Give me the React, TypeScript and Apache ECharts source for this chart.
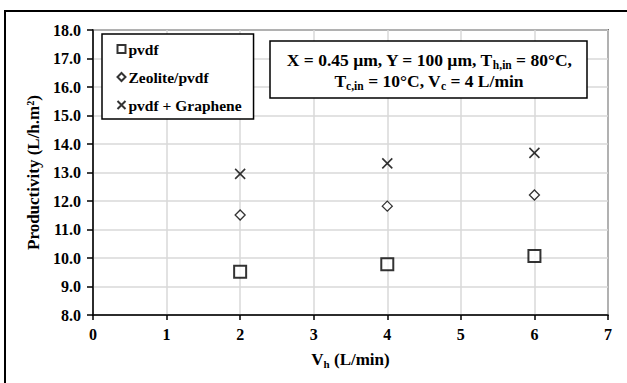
import React, { useEffect, useRef } from "react";
import * as echarts from "echarts";

const seriesNames = ["pvdf", "Zeolite/pvdf", "pvdf + Graphene"];
const xValues = [2, 4, 6];
const pvdf = [9.52, 9.78, 10.07];
const zeolite = [11.51, 11.82, 12.21];
const graphene = [12.95, 13.32, 13.69];

const FONT = "'Liberation Serif', 'Times New Roman', serif";

export default function App() {
  const ref = useRef<HTMLDivElement>(null);
  useEffect(() => {
    if (!ref.current) return;
    const chart = echarts.init(ref.current, null, { renderer: "svg" });
    const toPairs = (ys: number[]) => xValues.map((x, i) => [x, ys[i]]);
    const sub = { fontSize: 11, fontWeight: "bold", fontFamily: FONT, color: "#000", verticalAlign: "bottom", padding: [9, 0, 0, 0] };
    chart.setOption({
      animation: false,
      backgroundColor: "#fff",
      textStyle: { fontFamily: FONT },
      grid: { left: 93, top: 30, right: 19, bottom: 68, show: true, borderColor: "#000", borderWidth: 1.5, backgroundColor: "transparent" },
      xAxis: {
        type: "value",
        min: 0,
        max: 7,
        interval: 1,
        name: "V{sub|h} (L/min)",
        nameLocation: "middle",
        nameGap: 34,
        nameTextStyle: { fontSize: 17, fontWeight: "bold", color: "#000", fontFamily: FONT, rich: { sub } },
        axisLine: { lineStyle: { color: "#000", width: 1.5 } },
        axisTick: { show: true, inside: false, length: 5, lineStyle: { color: "#000", width: 1.5 } },
        axisLabel: { margin: 11, fontSize: 16, fontWeight: "bold", color: "#000", fontFamily: FONT },
        splitLine: { show: true, lineStyle: { color: "#d9d9d9", width: 1.5 } },
      },
      yAxis: {
        type: "value",
        min: 8,
        max: 18,
        interval: 1,
        name: "Productivity (L/h.m²)",
        nameLocation: "middle",
        nameGap: 47,
        nameTextStyle: { fontSize: 17, fontWeight: "bold", color: "#000", fontFamily: FONT },
        axisLine: { show: true, lineStyle: { color: "#000", width: 1.5 } },
        axisTick: { show: true, inside: false, length: 6, lineStyle: { color: "#000", width: 1.5 } },
        axisLabel: { margin: 12, fontSize: 16, fontWeight: "bold", color: "#000", fontFamily: FONT, formatter: (v: number) => v.toFixed(1) },
        splitLine: { show: true, lineStyle: { color: "#d9d9d9", width: 1.5 } },
      },
      legend: {
        orient: "vertical",
        left: 102,
        top: 34,
        padding: [7, 12, 6, 13],
        itemGap: 12,
        itemWidth: 8,
        itemHeight: 8,
        borderColor: "#000",
        borderWidth: 1.5,
        backgroundColor: "#fff",
        textStyle: { fontSize: 15.5, fontWeight: "bold", color: "#000", fontFamily: FONT, padding: [0, 0, 0, -2] },
        data: seriesNames,
      },
      graphic: [
        {
          type: "rect",
          shape: { x: 5, y: 11, width: 700, height: 500 },
          style: { fill: "none", stroke: "#000", lineWidth: 2 },
          silent: true,
        },
        {
          type: "rect",
          shape: { x: 270, y: 41, width: 317, height: 57 },
          style: { fill: "#fff", stroke: "#000", lineWidth: 1.5 },
          z: 10,
        },
        {
          type: "text",
          x: 429,
          y: 70,
          z: 11,
          style: {
            text: "X = 0.45 µm, Y = 100 µm, T{sub|h,in} = 80°C,\nT{sub|c,in} = 10°C, V{sub|c} = 4 L/min",
            align: "center",
            verticalAlign: "middle",
            fontSize: 17.5,
            fontWeight: "bold",
            fontFamily: FONT,
            fill: "#000",
            lineHeight: 21,
            rich: { sub: { fontSize: 11.5, fontWeight: "bold", fontFamily: FONT, fill: "#000", verticalAlign: "top", lineHeight: 12, padding: [10, 0, 0, 0] } },
          },
        },
      ],
      series: [
        {
          name: seriesNames[0],
          type: "scatter",
          data: toPairs(pvdf),
          symbol: "rect",
          symbolSize: 12,
          itemStyle: { color: "#fff", borderColor: "#000", borderWidth: 2 },
        },
        {
          name: seriesNames[1],
          type: "scatter",
          data: toPairs(zeolite),
          symbol: "diamond",
          symbolSize: 10,
          itemStyle: { color: "#fff", borderColor: "#000", borderWidth: 1.3 },
        },
        {
          name: seriesNames[2],
          type: "scatter",
          data: toPairs(graphene),
          symbol: "path://M0,0L10,10M10,0L0,10",
          symbolSize: 10,
          itemStyle: { color: "none", borderColor: "#000", borderWidth: 1.6 },
        },
      ],
    });
    return () => chart.dispose();
  }, []);
  return <div ref={ref} style={{ position: "fixed", left: 0, top: 0, width: 627, height: 383 }} />;
}
